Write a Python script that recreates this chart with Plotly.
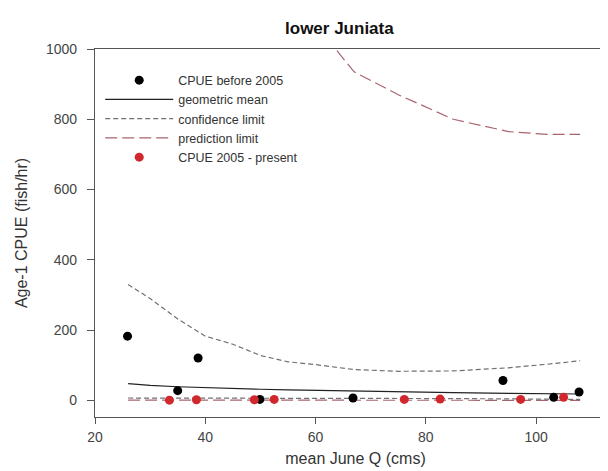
import plotly.graph_objects as go

# --- data ---
x_before = [25.9, 35.0, 38.7, 49.9, 66.8, 94.0, 103.2, 107.8]
y_before = [183, 28, 121, 3, 7, 57, 9, 24]

x_after = [33.5, 38.4, 48.9, 52.5, 76.1, 82.6, 97.2, 105.0]
y_after = [1, 2, 2, 3, 3, 4, 3, 9]

fit_x = [26, 30, 35, 40, 45, 50, 55, 60, 67, 75, 85, 95, 102, 108]
geo_mean = [48, 43, 39, 36, 34, 32, 30, 28.5, 26.5, 24.5, 22.5, 20.5, 19.5, 18.5]
conf_upper = [330, 290, 232, 183, 160, 128, 110, 102, 88, 83, 84, 93, 103, 113]
conf_lower = [7, 7, 6.8, 6.5, 6.4, 6.3, 6.1, 6, 5.9, 5.7, 5.4, 4.5, 3.6, 3]
pred_upper = [3800, 3000, 2400, 1900, 1600, 1380, 1200, 1070, 935, 870, 800, 765, 757, 757]
pred_lower = [1, 0.95, 0.9, 0.9, 0.85, 0.85, 0.8, 0.8, 0.78, 0.7, 0.6, 0.5, 0.47, 0.45]

x_ticks = [20, 40, 60, 80, 100]
y_ticks = [0, 200, 400, 600, 800, 1000]

FONT = "Liberation Sans, Arial, sans-serif"
conf_color = "#707070"
pred_color = "#a8646e"

fig = go.Figure()

fig.add_trace(go.Scatter(x=fit_x, y=pred_lower, mode="lines",
                         line=dict(color=pred_color, width=1.2, dash="12px,5px"),
                         showlegend=False, hoverinfo="skip"))
fig.add_trace(go.Scatter(x=fit_x, y=conf_lower, mode="lines",
                         line=dict(color=conf_color, width=1.2, dash="5px,3px"),
                         showlegend=False, hoverinfo="skip"))
fig.add_trace(go.Scatter(x=fit_x, y=pred_upper, mode="lines", name="prediction limit",
                         line=dict(color=pred_color, width=1.2, dash="12px,5px"),
                         legendrank=4))
fig.add_trace(go.Scatter(x=fit_x, y=conf_upper, mode="lines", name="confidence limit",
                         line=dict(color=conf_color, width=1.2, dash="5px,3px"),
                         legendrank=3))
fig.add_trace(go.Scatter(x=fit_x, y=geo_mean, mode="lines", name="geometric mean",
                         line=dict(color="#222222", width=1.2),
                         legendrank=2))
fig.add_trace(go.Scatter(x=x_before, y=y_before, mode="markers", name="CPUE before 2005",
                         marker=dict(color="black", size=9),
                         legendrank=1))
fig.add_trace(go.Scatter(x=x_after, y=y_after, mode="markers", name="CPUE 2005 - present",
                         marker=dict(color="#d0282c", size=9),
                         legendrank=5))

fig.update_layout(
    width=608, height=471,
    margin=dict(l=87, r=0, t=41, b=62),
    paper_bgcolor="white", plot_bgcolor="white",
    font=dict(family=FONT, color="#333333", size=13),
    title=dict(text="<b>lower Juniata</b>", x=0.545, xanchor="center",
               y=0.957, yanchor="middle",
               font=dict(family=FONT, size=17, color="#111111")),
    showlegend=True,
    legend=dict(x=0.01, xanchor="left", y=0.955, yanchor="top",
                bgcolor="rgba(0,0,0,0)", itemwidth=68,
                font=dict(family=FONT, size=12.5, color="#333333"),
                tracegroupgap=0),
)

fig.update_xaxes(range=[20, 114.5], tickvals=x_ticks, ticks="outside", ticklen=6,
                 showline=True, linecolor="#555555", linewidth=1.2, mirror=True,
                 tickcolor="#555555", showgrid=False, zeroline=False,
                 ticklabelstandoff=1,
                 tickfont=dict(size=14, color="#444444"),
                 title=dict(text="mean June Q (cms)", font=dict(size=16, color="#333333"), standoff=8))
fig.update_yaxes(range=[-47, 1000], tickvals=y_ticks, ticks="outside", ticklen=7,
                 showline=True, linecolor="#555555", linewidth=1.2,
                 tickcolor="#555555", showgrid=False, zeroline=False,
                 ticklabelstandoff=7,
                 tickfont=dict(size=14, color="#444444"),
                 title=dict(text="Age-1 CPUE (fish/hr)", font=dict(size=16, color="#333333"), standoff=14))

fig.write_html("out.html")
